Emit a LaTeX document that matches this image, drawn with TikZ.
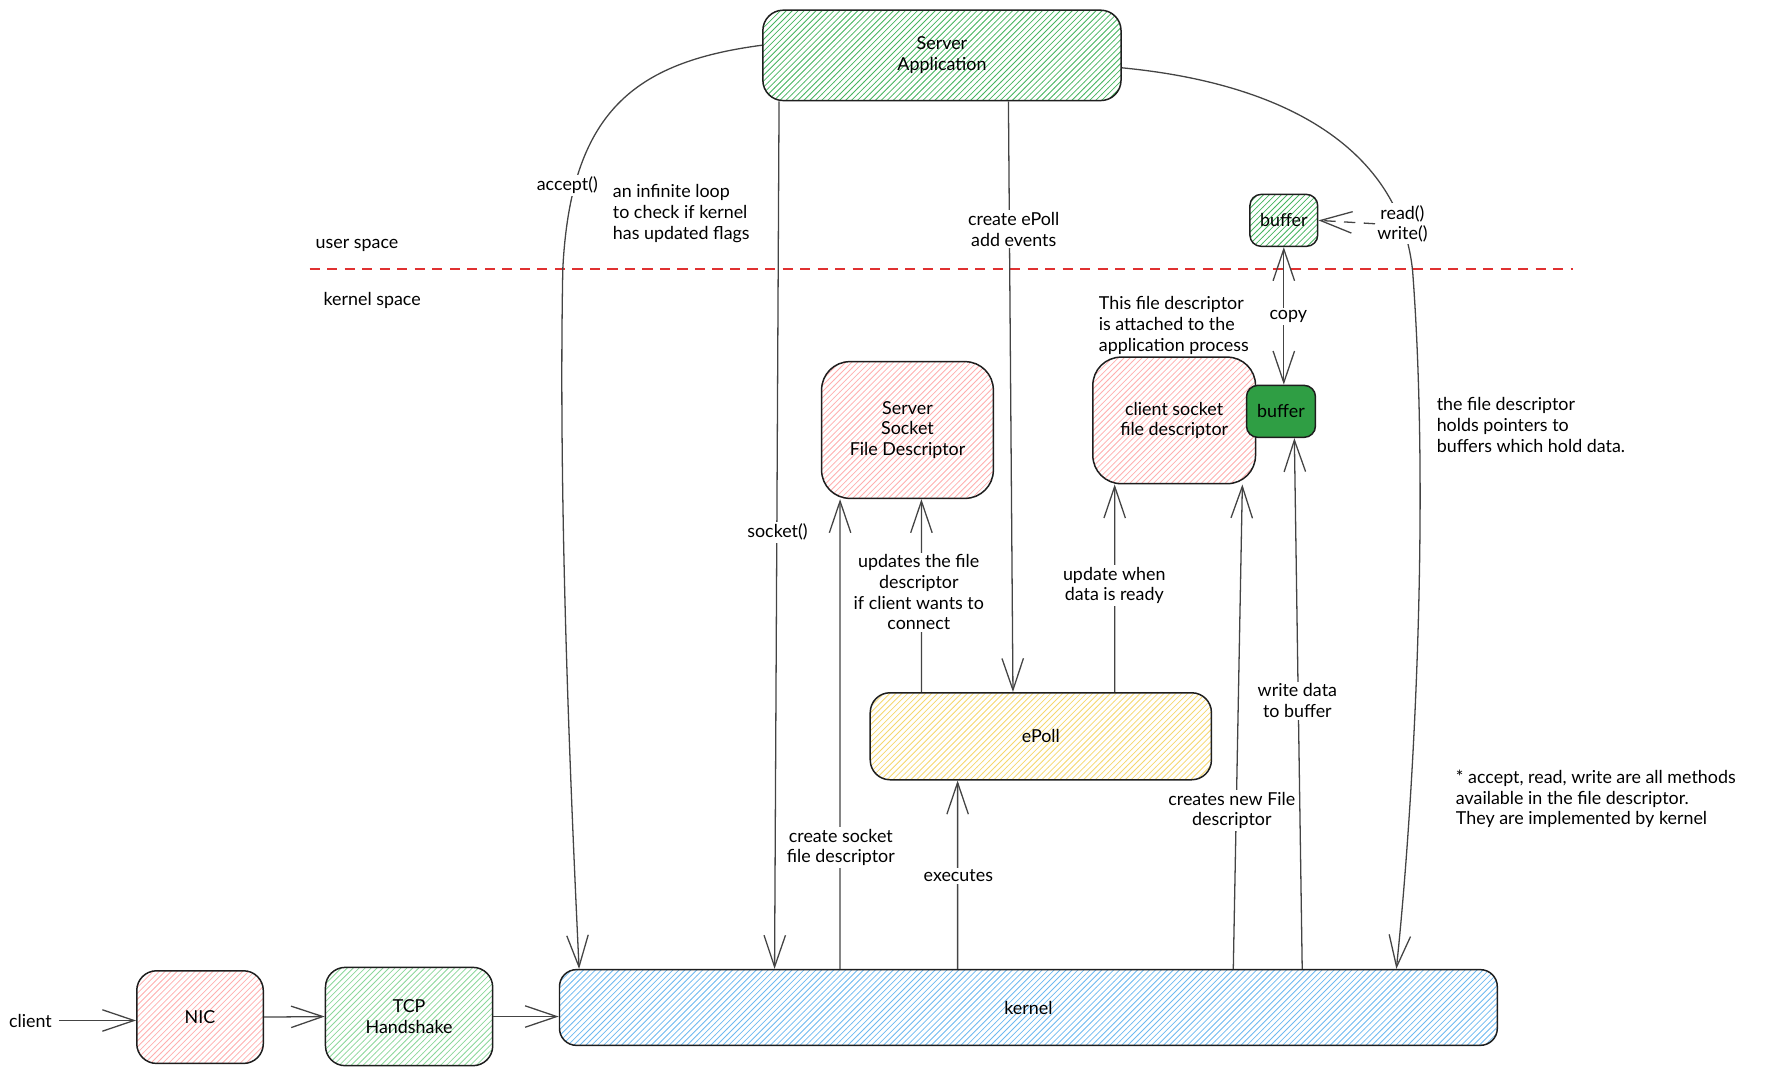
\documentclass[tikz,border=0pt]{standalone}
\usepackage{fontspec}
\setmainfont{Lato}
\usepackage{xcolor}
\usepackage{tikz}
\usetikzlibrary{arrows.meta,patterns}

\definecolor{ink}{HTML}{1E1E1E}
\definecolor{wire}{HTML}{444444}
\definecolor{hatchgreen}{RGB}{70,180,95}
\definecolor{hatchlgreen}{RGB}{140,215,155}
\definecolor{hatchpink}{RGB}{255,175,175}
\definecolor{hatchyellow}{RGB}{245,215,110}
\definecolor{hatchblue}{RGB}{110,185,240}
\definecolor{bufgreen}{HTML}{2F9E44}
\definecolor{spacered}{HTML}{E03131}

\newcommand{\handfont}{\fontsize{9}{10.4}\selectfont}

\begin{document}
\begin{tikzpicture}[x=0.02cm,y=-0.02cm,
  box/.style={draw=ink,line width=0.75pt,rounded corners=#1,align=center,inner sep=0pt,font=\handfont},
  box/.default=0.35cm,
  greenhatch/.style={pattern=north east lines,pattern color=hatchgreen},
  lightgreenhatch/.style={pattern=north east lines,pattern color=hatchlgreen},
  pinkhatch/.style={pattern=north east lines,pattern color=hatchpink},
  yellowhatch/.style={pattern=north east lines,pattern color=hatchyellow},
  bluehatch/.style={pattern=north east lines,pattern color=hatchblue},
  arr/.style={draw=wire,line width=0.65pt,-{Straight Barb[length=0.56cm,width=0.38cm]}},
  lbl/.style={fill=white,inner sep=1pt,align=center,font=\handfont},
  note/.style={anchor=west,align=left,inner sep=0pt,font=\handfont}]
\useasboundingbox (0,0) rectangle (1568,953);

% User space / kernel space boundary
\draw[spacered,line width=0.8pt,dash pattern=on 0.18cm off 0.13cm] (274,238) -- (1392,238);
\node[note] (userlbl) at (279,217) {user space};
\node[note] (kernlbl) at (286,266) {kernel space};

% Boxes
\node[box=0.36cm,greenhatch,minimum width=6.34cm,minimum height=1.6cm] (app) at (833.5,49) {Server\\Application};
\node[box=0.2cm,greenhatch,minimum width=1.2cm,minimum height=0.92cm] (ubuf) at (1136,195) {buffer};
\node[box=0.5cm,pinkhatch,minimum width=3.04cm,minimum height=2.42cm] (sockfd) at (803,380.5) {Server\\Socket\\File Descriptor};
\node[box=0.5cm,pinkhatch,minimum width=2.88cm,minimum height=2.24cm] (clifd) at (1039,372) {client socket\\file descriptor};
\node[box=0.2cm,fill=bufgreen,minimum width=1.22cm,minimum height=0.92cm] (kbuf) at (1133.5,364) {buffer};
\node[box=0.35cm,yellowhatch,minimum width=6.04cm,minimum height=1.54cm] (epoll) at (921,651.5) {ePoll};
\node[box=0.3cm,bluehatch,minimum width=16.6cm,minimum height=1.34cm] (kernel) at (910,891.5) {kernel};
\node[box=0.35cm,pinkhatch,minimum width=2.24cm,minimum height=1.64cm] (nic) at (177,900) {NIC};
\node[box=0.35cm,lightgreenhatch,minimum width=2.96cm,minimum height=1.74cm] (tcp) at (362,899.5) {TCP\\Handshake};
\node[font=\handfont] (client) at (27,903) {client};

% Incoming connection
\draw[arr] (client.east) -- (client.east -| nic.west);
\draw[arr] (nic.east) -- (tcp.west);
\draw[arr] (tcp.east) -- (tcp.east -| kernel.west);

% Calls from the application
\draw[arr] ([yshift=0.18cm]app.west) .. controls (560,55) and (505,100) .. (498,238)
  .. controls (494,450) and (505,700) .. ([xshift=0.36cm]kernel.north west);
\draw[arr] ([xshift=0.3cm]app.south west) -- ([xshift=3.82cm]kernel.north west);
\draw[arr] ([xshift=4.36cm]app.south west) -- ([xshift=2.54cm]epoll.north west);
\draw[arr] ([yshift=-0.22cm]app.east) .. controls (1150,75) and (1240,140) .. (1250,240)
  .. controls (1265,440) and (1252,700) .. ([xshift=-1.8cm]kernel.north east);

% Inside the kernel
\draw[arr] ([xshift=4.98cm]kernel.north west) -- ([xshift=0.34cm]sockfd.south west);
\draw[arr] ([xshift=0.92cm]epoll.north west) -- ([xshift=1.78cm]sockfd.south west);
\draw[arr] ([xshift=4.34cm]epoll.north west) -- ([xshift=0.4cm]clifd.south west);
\draw[arr] ([xshift=7.06cm]kernel.north west) -- ([xshift=1.56cm]epoll.south west);
\draw[arr] ([xshift=11.94cm]kernel.north west) -- ([xshift=2.66cm]clifd.south west);
\draw[arr] ([xshift=13.16cm]kernel.north west) -- ([xshift=0.86cm]kbuf.south west);

% Copy between buffers
\draw[arr,{Straight Barb[length=0.56cm,width=0.38cm]}-{Straight Barb[length=0.56cm,width=0.38cm]}] (ubuf.south) -- (ubuf.south |- kbuf.north);

% Labels on the connectors
\node[lbl] (acceptlbl) at (502,164) {accept()};
\node[lbl] (socketlbl) at (688,471) {socket()};
\node[lbl] (epolllbl) at (897,203) {create ePoll\\add events};
\node[lbl] (rwlbl) at (1241,198) {read()\\write()};
\node[lbl] (copylbl) at (1140,280) {copy};
\node[lbl] (csfdlbl) at (744,750) {create socket\\file descriptor};
\node[lbl] (updlbl) at (813,524) {updates the file\\descriptor\\if client wants to\\connect};
\node[lbl] (readylbl) at (986,518) {update when\\data is ready};
\node[lbl] (execlbl) at (848,775) {executes};
\node[lbl] (newfdlbl) at (1090,717) {creates new File\\descriptor};
\node[lbl] (wrbuflbl) at (1148,620) {write data\\to buffer};

% read/write go through the user buffer
\draw[arr,dash pattern=on 0.2cm off 0.15cm] (rwlbl.west) -- (ubuf.east);

% Notes
\node[note] (loopnote) at (542,189) {an infinite loop\\to check if kernel\\has updated flags};
\node[note] (attachnote) at (972,288) {This file descriptor\\is attached to the\\application process};
\node[note] (ptrnote) at (1271,376) {the file descriptor\\holds pointers to\\buffers which hold data.};
\node[note] (methodnote) at (1288,707) {* accept, read, write are all methods\\available in the file descriptor.\\They are implemented by kernel};
\end{tikzpicture}
\end{document}
